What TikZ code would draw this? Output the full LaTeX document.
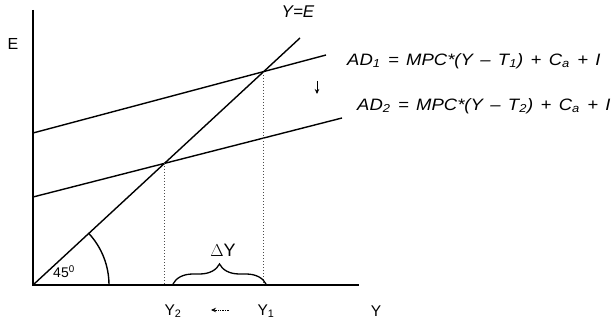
\documentclass[tikz,border=0pt]{standalone}
\usepackage{fontspec}
\setmainfont{Liberation Sans}
\usetikzlibrary{decorations.pathreplacing,arrows.meta}
\newcommand{\wsp}{\hspace{0.4em}}
\begin{document}
\begin{tikzpicture}[x=1pt,y=-1pt,
  axisline/.style={line width=1.6pt, black},
  curve/.style={line width=1.4pt, black},
  guide/.style={line width=1pt, dotted, black!70},
  lbl/.style={font=\fontsize{15.5}{18}\selectfont, inner sep=0pt},
  eqlbl/.style={font=\fontsize{16.5}{19}\selectfont\itshape, inner sep=0pt, anchor=west}]
\useasboundingbox (0,0) rectangle (616,326);
% axes
\coordinate (O) at (33,285);
\coordinate (Ytop) at (33,10);
\coordinate (Xend) at (359,285);
\draw[axisline] (Ytop) -- (O) -- (Xend);
% lines
\coordinate (A1s) at (33,133);
\coordinate (A1e) at (326,55);
\coordinate (A2s) at (33,197);
\coordinate (A2e) at (342,118);
\coordinate (Le) at (300,38);
\draw[curve] (A1s) -- (A1e);
\draw[curve] (A2s) -- (A2e);
\draw[curve] (O) -- (Le);
% intersections
\coordinate (P1) at (263.6,72);
\coordinate (P2) at (164.5,163);
\coordinate (P1b) at (263.6,285);
\coordinate (P2b) at (164.5,285);
\draw[guide] (P1) -- (P1b);
\draw[guide] (P2) -- (P2b);
% 45 arc
\draw[curve] (109,285) arc[start angle=0, end angle=-42.8, radius=76];
\node[lbl, font=\fontsize{14}{16}\selectfont] (ang) at (64,272) {45\textsuperscript{0}};
% brace
\coordinate (Bl) at (173,284);
\coordinate (Br) at (266,284);
\draw[line width=1.3pt, decorate, decoration={brace, amplitude=20pt}] (Bl) -- (Br);
\node[lbl, font=\fontsize{18}{20}\selectfont] (dY) at (223,250) {$\Delta$Y};
% shift arrow
\coordinate (Sa) at (317,81);
\coordinate (Sb) at (317,94);
\draw[line width=0.7pt, -{Stealth[length=5pt,width=4.5pt]}] (Sa) -- (Sb);
% labels
\node[lbl, font=\fontsize{16}{18}\selectfont] (E) at (13,44) {E};
\node[lbl, font=\fontsize{17}{19}\selectfont\itshape] (YE) at (298,12) {Y=E};
\node[eqlbl] (AD1) at (347,61) {\scalebox{1.12}[1]{AD\textsubscript{1}\wsp=\wsp MPC*(Y\wsp--\wsp T\textsubscript{1})\wsp+\wsp C\textsubscript{a}\wsp+\wsp I}};
\node[eqlbl] (AD2) at (357,106) {\scalebox{1.12}[1]{AD\textsubscript{2}\wsp=\wsp MPC*(Y\wsp--\wsp T\textsubscript{2})\wsp+\wsp C\textsubscript{a}\wsp+\wsp I}};
\node[lbl] (Y2) at (173,311) {Y\textsubscript{2}};
\node[lbl] (Y1) at (266,311) {Y\textsubscript{1}};
\node[lbl] (Yx) at (376,311) {Y};
\coordinate (La) at (229,310);
\coordinate (Lb) at (211,310);
\draw[line width=0.7pt, densely dotted, -{Stealth[length=5pt,width=4.5pt]}] (La) -- (Lb);
\end{tikzpicture}
\end{document}
